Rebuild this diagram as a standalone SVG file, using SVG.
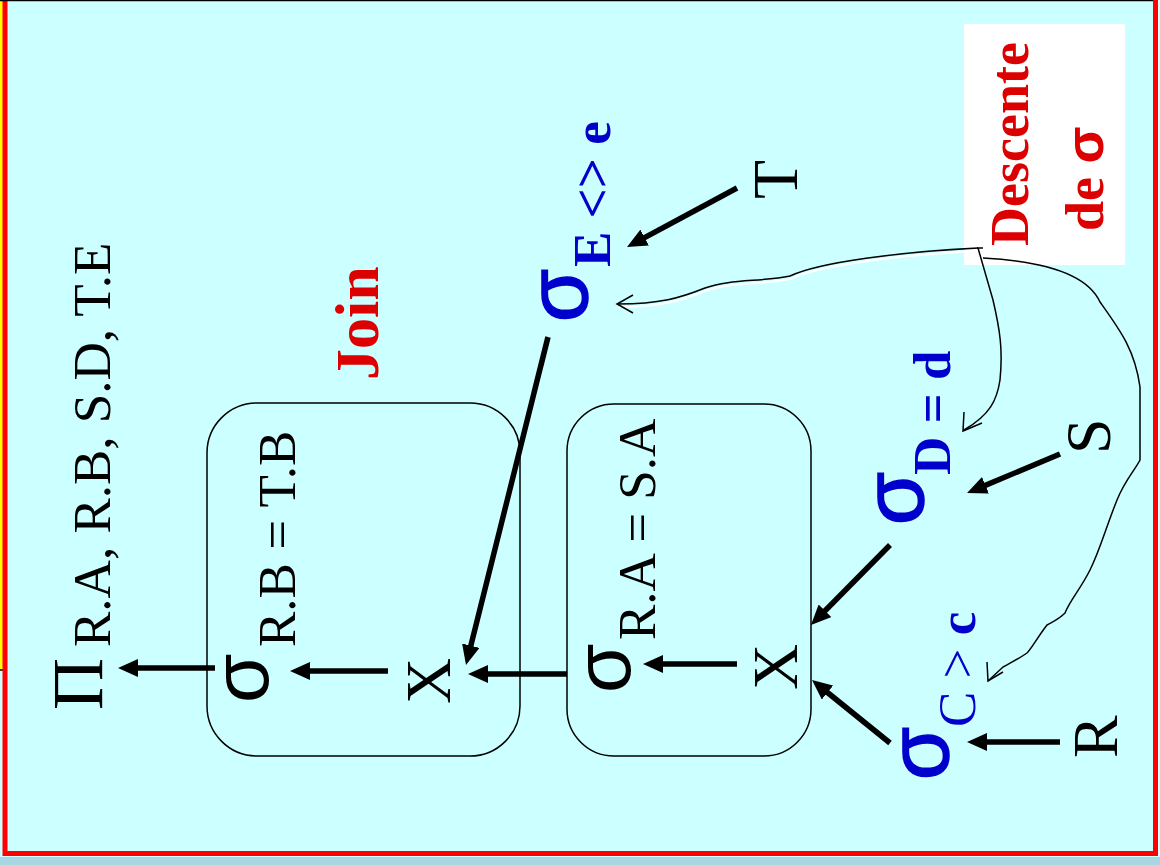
<svg xmlns="http://www.w3.org/2000/svg" width="1160" height="865" viewBox="0 0 1160 865">
<defs>
<style>
.t{font-family:"Liberation Serif","Times New Roman",serif;fill:#000}
.g{font-family:"Liberation Sans",Arial,sans-serif;fill:#000}
.b{font-weight:bold}
.blue{fill:#0000CC}
.red{fill:#DD0000}
.big{font-size:64px}
.sub{font-size:53px}
.sig{font-size:80px}
.bsig{font-size:86px;stroke:#0000CC;stroke-width:1.6}
.box{fill:none;stroke:#000;stroke-width:1.5}
.thick{stroke:#000;stroke-width:5.5;fill:none;marker-end:url(#ah)}
.thin{stroke:#000;stroke-width:1.5;fill:none}
.halo{stroke:#fff;stroke-width:2;fill:none}
</style>
<marker id="ah" viewBox="0 0 20 18" refX="8" refY="9" markerWidth="20" markerHeight="18" markerUnits="userSpaceOnUse" orient="auto">
<path d="M0,0 L20,9 L0,18 z" fill="#000"/>
</marker>
</defs>
<rect x="0" y="0" width="1160" height="865" fill="#A9D6E5"/>
<rect x="0" y="0" width="1160" height="857" fill="#CCFFFF"/>
<rect x="0" y="0" width="3" height="670" fill="#FFFF00"/>
<line x1="0" y1="670" x2="5" y2="670" stroke="#000" stroke-width="1.5"/>
<rect x="5" y="-10" width="1150.5" height="863.5" fill="none" stroke="#FF0000" stroke-width="5"/>
<line x1="0" y1="0.5" x2="1153" y2="0.5" stroke="#000" stroke-width="1.5"/>

<g id="descente">
<rect x="964" y="24" width="161" height="241" fill="#fff"/>
<text class="t b red" font-size="54" transform="translate(1028,246) rotate(-90)">Descente</text>
<text class="t b red" font-size="54" transform="translate(1103,231) rotate(-90)">de <tspan font-family="Liberation Sans, Arial, sans-serif">σ</tspan></text>
</g>

<g id="join-label">
<text class="t b red" font-size="62" transform="translate(378,380) rotate(-90)">Join</text>
</g>

<g id="join1">
<rect class="box" x="207" y="403" width="313" height="353" rx="50" ry="50"/>
<text class="g sig" transform="translate(268,703) rotate(-90)">σ</text>
<text class="t sub" transform="translate(295,647) rotate(-90)">R.B = T.B</text>
<text class="t big" transform="translate(450,704) rotate(-90)">X</text>
</g>

<g id="join2">
<rect class="box" x="567" y="404" width="244" height="352" rx="47" ry="47"/>
<text class="g sig" transform="translate(630,693) rotate(-90)">σ</text>
<text class="t sub" transform="translate(655,640) rotate(-90)">R.A = S.A</text>
<text class="t big" transform="translate(797,690) rotate(-90)">X</text>
</g>

<g id="proj">
<text class="t" font-size="72" transform="translate(102,710) rotate(-90)">Π</text>
<text class="t sub" transform="translate(110,647) rotate(-90)">R.A, R.B, S.D, T.E</text>
</g>

<g id="selE">
<text class="g blue bsig" transform="translate(587,322) rotate(-90)">σ</text>
<text class="t b blue sub" transform="translate(610,267) rotate(-90)">E &lt;&gt; e</text>
</g>

<g id="selD">
<text class="g blue bsig" transform="translate(923,525) rotate(-90)">σ</text>
<text class="t b blue sub" transform="translate(950,475) rotate(-90)">D = d</text>
</g>

<g id="selC">
<text class="g blue bsig" transform="translate(948,780) rotate(-90)">σ</text>
<text class="t blue sub" transform="translate(975,727) rotate(-90)">C &gt; <tspan class="b">c</tspan></text>
</g>

<g id="T"><text class="t big" transform="translate(797,199) rotate(-90)">T</text></g>
<g id="S"><text class="t big" transform="translate(1110,454) rotate(-90)">S</text></g>
<g id="R"><text class="t big" transform="translate(1117,758) rotate(-90)">R</text></g>

<g id="connectors">
<line class="thick" x1="215" y1="668" x2="130" y2="668"/>
<line class="thick" x1="388" y1="671" x2="302" y2="671"/>
<line class="thick" x1="567" y1="674" x2="480" y2="674"/>
<line class="thick" x1="737" y1="664" x2="655" y2="664"/>
<line class="thick" x1="548" y1="337" x2="468.9" y2="653.4"/>
<line class="thick" x1="737" y1="188" x2="637.6" y2="241.3"/>
<line class="thick" x1="1060" y1="454" x2="978.1" y2="488.4"/>
<line class="thick" x1="890" y1="545" x2="819.4" y2="616.5"/>
<line class="thick" x1="1060" y1="742" x2="979" y2="742"/>
<line class="thick" x1="890" y1="743" x2="821.3" y2="687.5"/>

<path class="halo" transform="translate(0,3)" d="M978,248 C900,252 820,262 790,276 C760,282 730,279 705,288 C680,298 660,304 618,304"/>
<path class="thin" d="M978,248 C900,252 820,262 790,276 C760,282 730,279 705,288 C680,298 660,304 618,304"/>
<path class="thin" d="M633,295 L617,304 L633,313"/>
<path class="thin" d="M977,248 L983,248"/>
<path class="thin" d="M978,248 L993,300 C1000,330 1003,350 1000,380 C997,400 990,415 964,430"/>
<path class="thin" d="M964,412 L963,431 L982,423"/>
<path class="thin" d="M983,258 C1060,262 1090,280 1100,302 C1120,330 1135,350 1140,387 L1140,460 C1135,470 1125,480 1117,500 C1105,530 1100,550 1090,570 C1080,590 1070,600 1065,613 C1058,620 1052,622 1047,625 C1037,638 1032,648 1027,653 C1017,660 1008,664 1003,667 L988,681"/>
<path class="thin" d="M987,662 L988,681 L1003,672"/>
</g>
</svg>
